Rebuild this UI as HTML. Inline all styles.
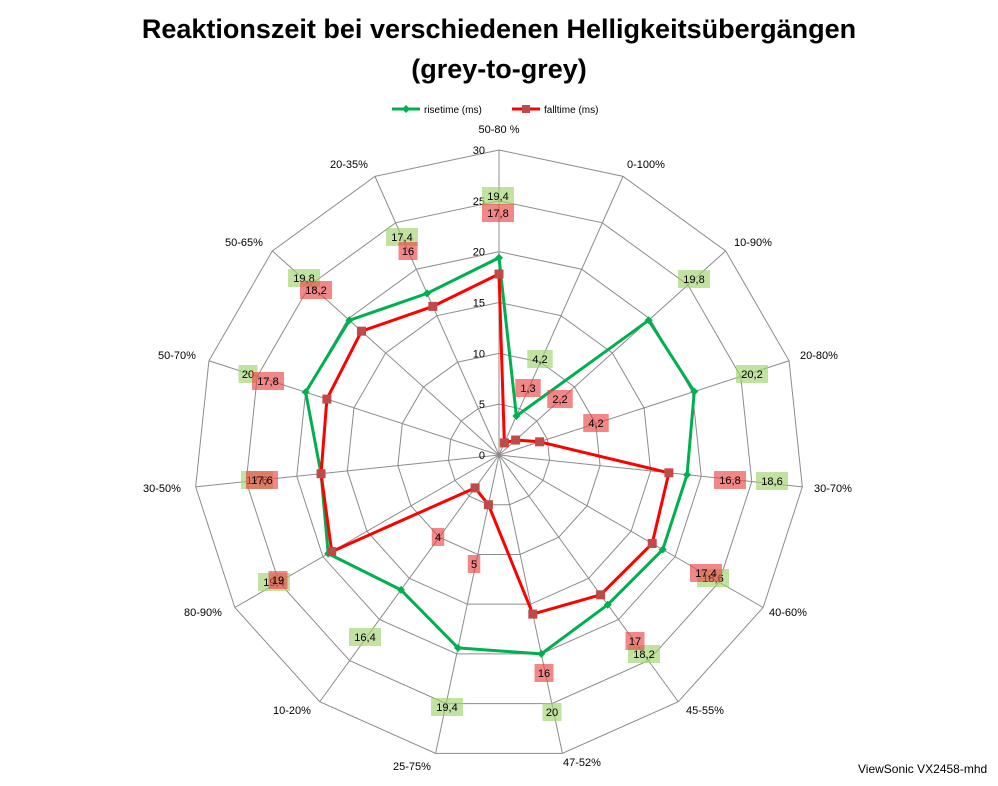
<!DOCTYPE html>
<html><head><meta charset="utf-8"><style>
body{margin:0;background:#fff;}
svg{display:block;font-family:"Liberation Sans",sans-serif;}
</style></head><body>
<svg id="s" width="998" height="786" viewBox="0 0 998 786" xmlns="http://www.w3.org/2000/svg">
<text x="499" y="38" text-anchor="middle" font-size="27" font-weight="bold">Reaktionszeit bei verschiedenen Helligkeitsübergängen</text>
<text x="499" y="78" text-anchor="middle" font-size="27" font-weight="bold">(grey-to-grey)</text>
<line x1="392" y1="109" x2="420" y2="109" stroke="#00b050" stroke-width="3"/>
<path d="M406 105 L410 109 L406 113 L402 109Z" fill="#00b050"/>
<text x="424" y="113" font-size="10">risetime (ms)</text>
<line x1="512" y1="109" x2="540" y2="109" stroke="#ff0000" stroke-width="3"/>
<rect x="522" y="105" width="8" height="8" fill="#be4b48"/>
<text x="544" y="113" font-size="10">falltime (ms)</text>
<text x="858" y="773" font-size="12">ViewSonic VX2458-mhd</text>
<g id="g"></g>
</svg>
<script>
var cx=499,cy=455,k=305/30,N=15,g=document.getElementById('g'),h='';
function P(i,v){var a=i*2*Math.PI/N;return [cx+v*k*Math.sin(a),cy-v*k*Math.cos(a)];}
for(var r=5;r<=30;r+=5){var pts=[];for(var i=0;i<N;i++)pts.push(P(i,r).join(','));h+='<polygon points="'+pts.join(' ')+'" fill="none" stroke="#8c8c8c" stroke-width="1"/>';}
for(var i=0;i<N;i++){var p=P(i,30);h+='<line x1="'+cx+'" y1="'+cy+'" x2="'+p[0]+'" y2="'+p[1]+'" stroke="#8c8c8c"/>';}
for(var r=0;r<=30;r+=5)h+='<text x="485" y="'+(cy-r*k+4)+'" text-anchor="end" font-size="11">'+r+'</text>';
var labs=[["50-80 %",499,129],["0-100%",646,164],["10-90%",753,242],["20-80%",819,355],["30-70%",833,488],["40-60%",788,612],["45-55%",705,710],["47-52%",582,762],["25-75%",412,766],["10-20%",292,710],["80-90%",203,612],["30-50%",162,488],["50-70%",177,355],["50-65%",244,242],["20-35%",349,164]];
labs.forEach(function(l){h+='<text x="'+l[1]+'" y="'+(l[2]+4)+'" text-anchor="middle" font-size="11">'+l[0]+'</text>';});
var rise=[19.4,4.2,19.8,20.2,18.6,18.6,18.2,20,19.4,16.4,19.4,17.6,20,19.8,17.4];
var fall=[17.8,1.3,2.2,4.2,16.8,17.4,17,16,5,4,19,17.6,17.8,18.2,16];
function line(d,c){var pts=[];for(var i=0;i<N;i++)pts.push(P(i,d[i]).join(','));pts.push(pts[0]);return '<polyline points="'+pts.join(' ')+'" fill="none" stroke="'+c+'" stroke-width="3" stroke-linejoin="round"/>';}
h+=line(rise,'#00b050');h+=line(fall,'#ff0000');
for(var i=0;i<N;i++){var p=P(i,rise[i]);h+='<path d="M'+p[0]+' '+(p[1]-4)+' L'+(p[0]+4)+' '+p[1]+' L'+p[0]+' '+(p[1]+4)+' L'+(p[0]-4)+' '+p[1]+'Z" fill="#00b050"/>';}
for(var i=0;i<N;i++){var p=P(i,fall[i]);h+='<rect x="'+(p[0]-4.5)+'" y="'+(p[1]-4.5)+'" width="9" height="9" fill="#be4b48"/>';}
var rl=[[498,196],[540,359],[694,279],[752,374],[772,481],[713,578],[644,654],[552,712],[447,707],[365,637],[274,582],[257,480],[248,374],[304,278],[402,237]];
var fl=[[498,213],[528,388],[560,399],[596,423],[730,480],[706,573],[635,641],[544,673],[474,564],[438,537],[278,580],[262,480],[268,381],[316,290],[408,251]];
function lab(t,x,y,c){var w=t.length*6.5+6;return '<rect x="'+(x-w/2)+'" y="'+(y-9)+'" width="'+w+'" height="18" fill="'+c+'"/><text x="'+x+'" y="'+(y+4)+'" text-anchor="middle" font-size="11">'+t+'</text>';}
function f(v){return String(v).replace('.',',');}
for(var i=0;i<N;i++)h+=lab(f(rise[i]),rl[i][0],rl[i][1],'rgba(160,210,110,0.65)');
for(var i=0;i<N;i++)h+=lab(f(fall[i]),fl[i][0],fl[i][1],'rgba(235,70,70,0.65)');
g.innerHTML=h;
</script>
</body></html>
